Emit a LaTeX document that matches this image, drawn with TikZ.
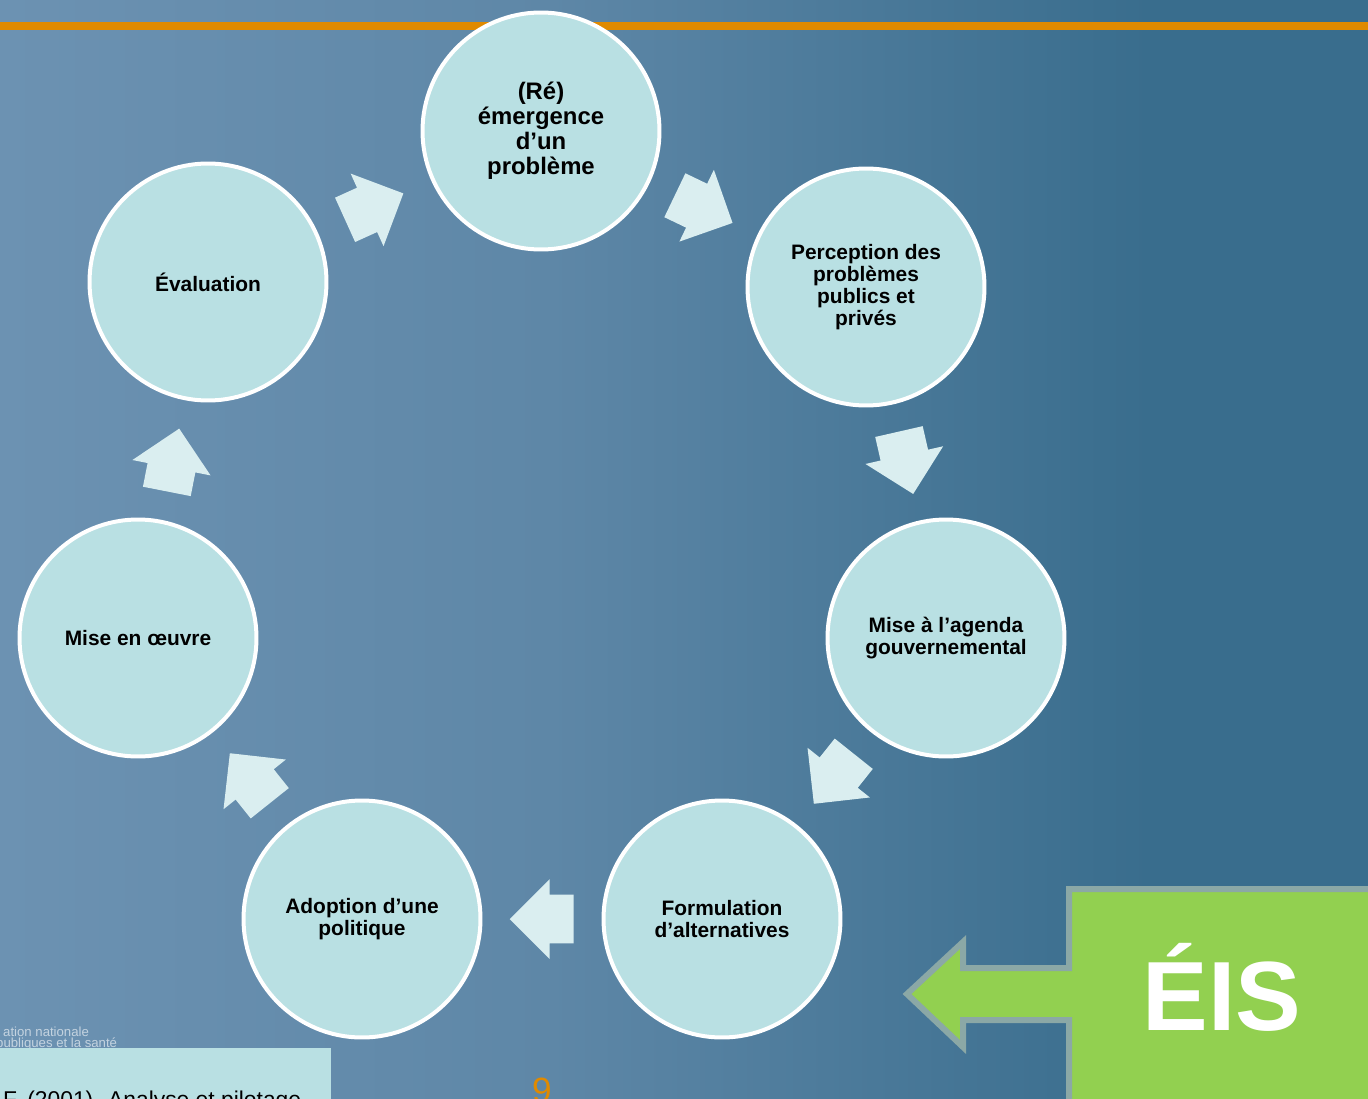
\documentclass[tikz,border=0pt]{standalone}
\usepackage{fontspec}
\setmainfont{Liberation Sans}
\usepackage{xcolor}
\usepackage{tikz}
\usetikzlibrary{shapes.arrows}
\definecolor{bgleft}{RGB}{108, 146, 178}
\definecolor{bgmid}{RGB}{94, 135, 167}
\definecolor{bgright}{RGB}{57, 109, 141}
\definecolor{ribbonorange}{RGB}{224, 138, 0}
\definecolor{circlefill}{RGB}{185, 224, 227}
\definecolor{arrowfill}{RGB}{218, 238, 240}
\definecolor{eisgreen}{RGB}{146, 208, 80}
\definecolor{eisedge}{RGB}{139, 168, 166}
\tikzset{
  phase/.style={circle, draw=white, line width=0.08cm, fill=circlefill,
    minimum size=4.74cm, inner sep=0pt, align=center,
    font=\bfseries\fontsize{11.9}{12.5}\selectfont},
  cyclearrow/.style={single arrow, draw=none, fill=arrowfill,
    inner xsep=0pt, inner ysep=0.48cm,
    minimum height=1.28cm, minimum width=1.58cm,
    single arrow head extend=0.31cm, single arrow head indent=0pt,
    pos=0.4, sloped, allow upside down}
}

\begin{document}
\begin{tikzpicture}[x=0.02cm, y=-0.02cm]
  \useasboundingbox (0,0) rectangle (1368,1098);
  % fond
  \shade[left color=bgleft, right color=bgmid] (0,0) rectangle (550,1098);
  \shade[left color=bgmid, right color=bgright] (550,0) rectangle (1150,1098);
  \fill[bgright] (1150,0) rectangle (1368,1098);
  \fill[ribbonorange] (0,22) rectangle (1368,30);

  % cycle
  \node[phase, font=\bfseries\fontsize{13.6}{14.2}\selectfont] (top) at (541,131)
    {(Ré)\\émergence\\d’un\\problème};
  \node[phase] (perc) at (866,287) {Perception des\\problèmes\\publics et\\privés};
  \node[phase] (agenda) at (946,638) {Mise à l’agenda\\gouvernemental};
  \node[phase] (form) at (722,919) {Formulation\\d’alternatives};
  \node[phase] (adopt) at (362,919) {Adoption d’une\\politique};
  \node[phase] (mise) at (138,638) {Mise en œuvre};
  \node[phase] (eval) at (208,282) {Évaluation};

  \path (top) -- node[cyclearrow] (a1) {} (perc);
  \path (perc) -- node[cyclearrow] (a2) {} (agenda);
  \path (agenda) -- node[cyclearrow] (a3) {} (form);
  \path (form) -- node[cyclearrow] (a4) {} (adopt);
  \path (adopt) -- node[cyclearrow] (a5) {} (mise);
  \path (mise) -- node[cyclearrow] (a6) {} (eval);
  \path (eval) -- node[cyclearrow] (a7) {} (top);

  % EIS
  \draw[eisedge, fill=eisgreen, line width=0.12cm]
    (1400,889) -- (1069,889) -- (1069,968) -- (963,968) -- (963,942)
    -- (907,994) -- (963,1047) -- (963,1020) -- (1069,1020) -- (1069,1110)
    -- (1400,1110) -- cycle;
  \node[white, anchor=base, font=\bfseries\fontsize{56}{56}\selectfont] (eis)
    at (1222,1030) {ÉIS};

  % bas de page
  \node[white, opacity=0.6, anchor=base west, font=\fontsize{7.5}{8}\selectfont]
    (logo1) at (-3,1036) {ation nationale};
  \node[white, opacity=0.6, anchor=base west, font=\fontsize{7.5}{8}\selectfont]
    (logo2) at (-10,1047) {publiques et la santé};
  \fill[circlefill] (0,1048) rectangle (331,1110);
  \node[anchor=base west, font=\fontsize{13}{13}\selectfont] (ref)
    at (-3,1107) {F. (2001). Analyse et pilotage};
  \node[ribbonorange, anchor=base, font=\fontsize{20}{20}\selectfont] (page)
    at (542,1102) {9};
\end{tikzpicture}
\end{document}
